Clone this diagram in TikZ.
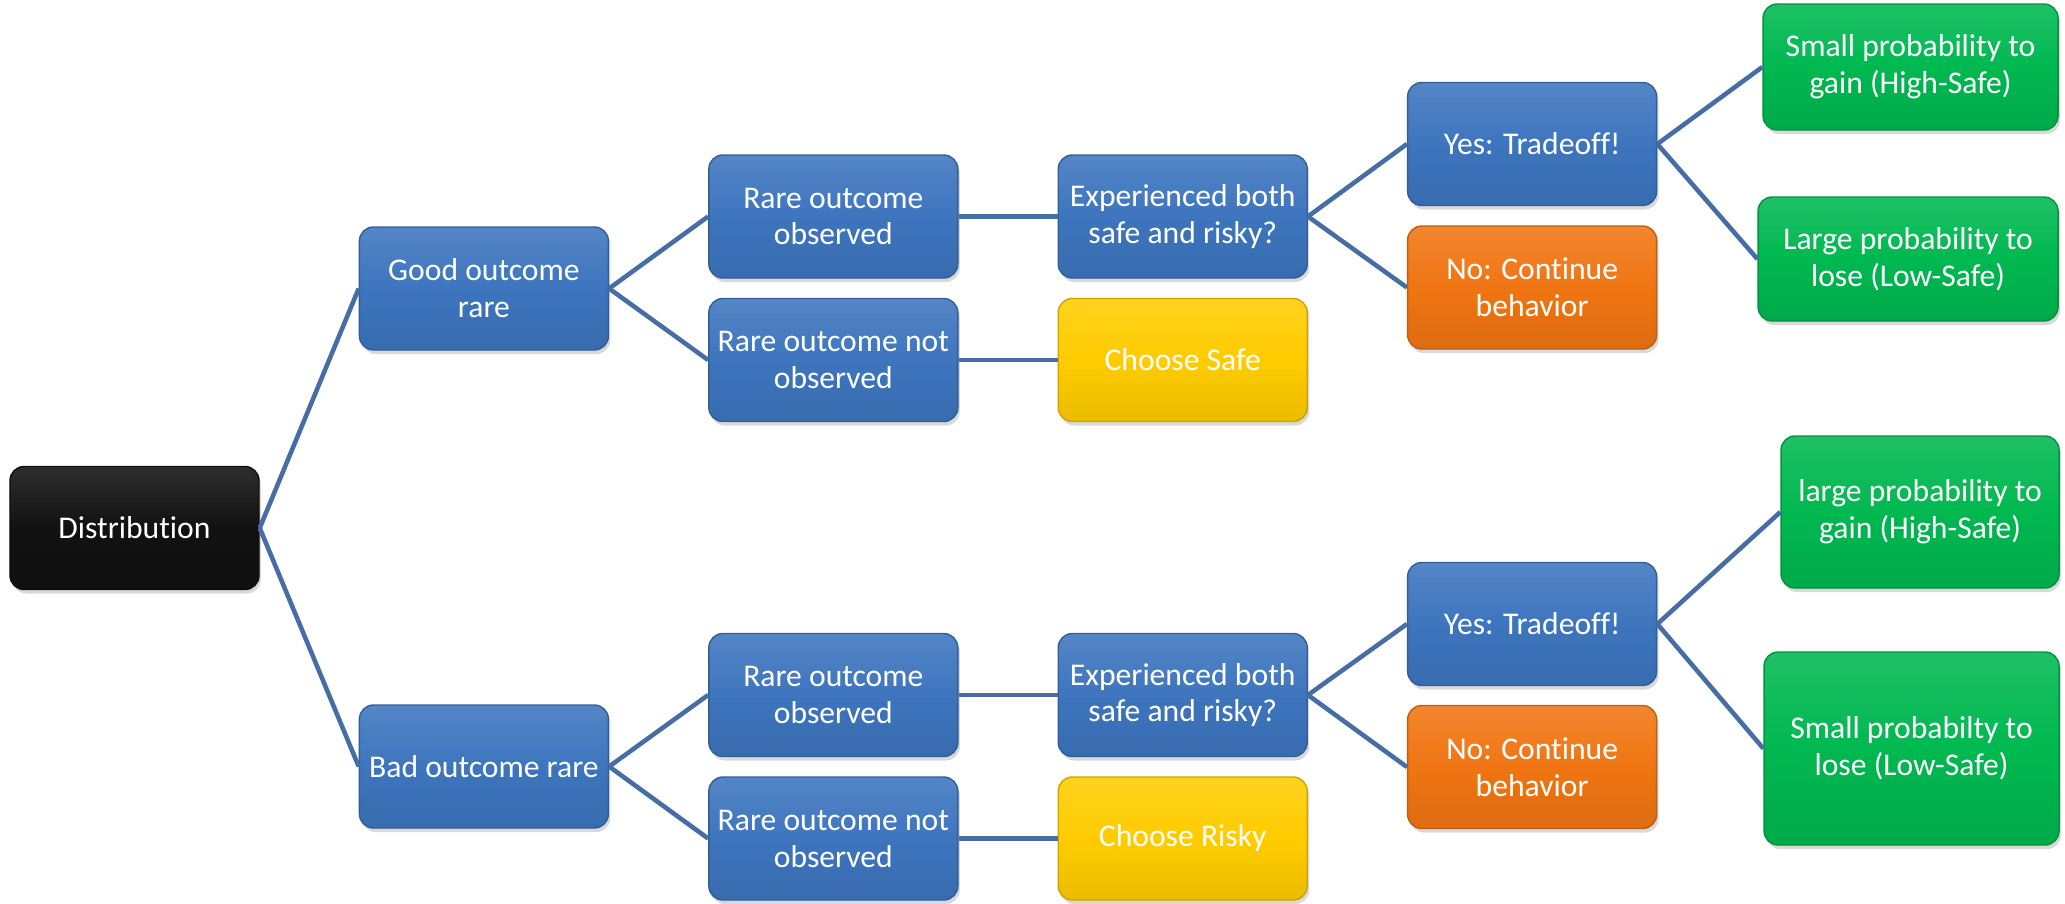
\documentclass[tikz,border=0pt]{standalone}
\usepackage{fontspec}
\setmainfont{Carlito}[Ligatures=CommonOff]
\usepackage{tikz}
\usetikzlibrary{positioning,shadows}
\definecolor{boxblue}{RGB}{61,117,190}
\definecolor{boxblack}{RGB}{17,17,17}
\definecolor{boxorange}{RGB}{240,117,18}
\definecolor{boxyellow}{RGB}{255,204,0}
\definecolor{boxgreen}{RGB}{0,184,80}
\definecolor{linkblue}{RGB}{70,110,165}
\tikzset{
  treebox/.style={rectangle,rounded corners=4pt,draw=#1!80!black,
    top color=#1!88!white,bottom color=#1!92!black,middle color=#1,
    minimum width=2.49cm,minimum height=1.23cm,align=center,
    text=white,font=\fontsize{9}{10.5}\selectfont,inner sep=1pt,
    drop shadow={opacity=0.3,shadow xshift=0.02cm,shadow yshift=-0.04cm}},
  treelink/.style={line width=1.3pt,color=linkblue},
}

\begin{document}
\begin{tikzpicture}[node distance=0.99cm]
\useasboundingbox (0,0) rectangle (20.65,-9.03);

%% ── root ─────────────────────────────────────────────────────────────────
\node[treebox=boxblack] (dist) at (1.345,-5.28) {Distribution};

%% ── good outcome rare ────────────────────────────────────────────────────
\node[treebox=boxblue, right=of dist, yshift=2.395cm] (good) {Good outcome\\rare};
\node[treebox=boxblue, right=of good, yshift=0.72cm] (gobs) {Rare outcome\\observed};
\node[treebox=boxblue, right=of good, yshift=-0.715cm] (gnot) {Rare outcome not\\observed};
\node[treebox=boxblue, right=of gobs] (gexp) {Experienced both\\safe and risky?};
\node[treebox=boxyellow, right=of gnot] (gsafe) {Choose Safe};
\node[treebox=boxblue, right=of gexp, yshift=0.725cm] (gyes) {Yes: Tradeoff!};
\node[treebox=boxorange, right=of gexp, yshift=-0.71cm] (gno) {No: Continue\\behavior};
\node[treebox=boxgreen, minimum width=2.95cm, minimum height=1.26cm,
      right=1.05cm of gyes, yshift=0.77cm] (ggain) {Small probability to\\gain (High-Safe)};
\node[treebox=boxgreen, minimum width=3.0cm, minimum height=1.24cm,
      right=1.0cm of gyes, yshift=-1.15cm] (glose) {Large probability to\\lose (Low-Safe)};

%% ── bad outcome rare ─────────────────────────────────────────────────────
\node[treebox=boxblue, right=of dist, yshift=-2.385cm] (bad) {Bad outcome rare};
\node[treebox=boxblue, right=of bad, yshift=0.715cm] (bobs) {Rare outcome\\observed};
\node[treebox=boxblue, right=of bad, yshift=-0.72cm] (bnot) {Rare outcome not\\observed};
\node[treebox=boxblue, right=of bobs] (bexp) {Experienced both\\safe and risky?};
\node[treebox=boxyellow, right=of bnot] (brisky) {Choose Risky};
\node[treebox=boxblue, right=of bexp, yshift=0.71cm] (byes) {Yes: Tradeoff!};
\node[treebox=boxorange, right=of bexp, yshift=-0.72cm] (bno) {No: Continue\\behavior};
\node[treebox=boxgreen, minimum width=2.78cm, minimum height=1.52cm,
      right=1.23cm of byes, yshift=1.12cm] (bgain) {large probability to\\gain (High-Safe)};
\node[treebox=boxgreen, minimum width=2.95cm, minimum height=1.93cm,
      right=1.06cm of byes, yshift=-1.245cm] (blose) {Small probabilty to\\lose (Low-Safe)};

%% ── Links ────────────────────────────────────────────────────────────────
% root to both branches
\draw[treelink] (dist.east) -- (good.west);
\draw[treelink] (dist.east) -- (bad.west);
% good outcome rare
\draw[treelink] (good.east) -- (gobs.west);
\draw[treelink] (good.east) -- (gnot.west);
\draw[treelink] (gobs.east) -- (gexp.west);
\draw[treelink] (gnot.east) -- (gsafe.west);
\draw[treelink] (gexp.east) -- (gyes.west);
\draw[treelink] (gexp.east) -- (gno.west);
\draw[treelink] (gyes.east) -- (ggain.west);
\draw[treelink] (gyes.east) -- (glose.west);
% bad outcome rare
\draw[treelink] (bad.east) -- (bobs.west);
\draw[treelink] (bad.east) -- (bnot.west);
\draw[treelink] (bobs.east) -- (bexp.west);
\draw[treelink] (bnot.east) -- (brisky.west);
\draw[treelink] (bexp.east) -- (byes.west);
\draw[treelink] (bexp.east) -- (bno.west);
\draw[treelink] (byes.east) -- (bgain.west);
\draw[treelink] (byes.east) -- (blose.west);

\end{tikzpicture}
\end{document}
